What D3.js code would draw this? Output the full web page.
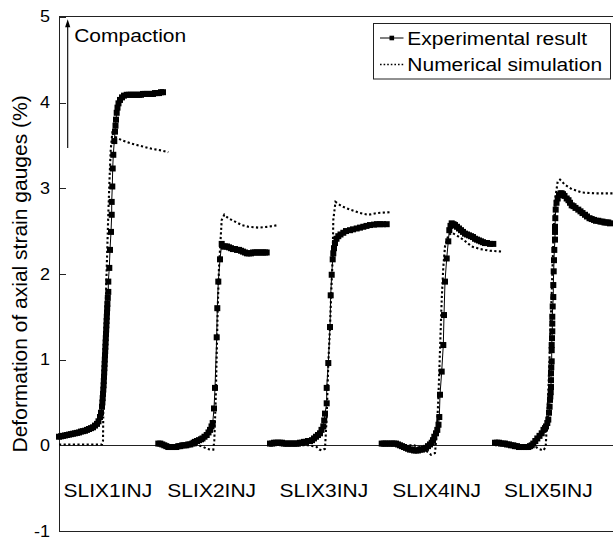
<!DOCTYPE html>
<html>
<head>
<meta charset="utf-8">
<script src="https://cdn.jsdelivr.net/npm/d3@7"></script>
<style>
  body { margin: 0; background: #fff; }
  svg { display: block; background: #fff; }
</style>
</head>
<body>
<svg id="chart" width="613" height="541"></svg>
<script>
// Injection tests, in the order they were run along the time axis
const categories = ["SLIX1INJ", "SLIX2INJ", "SLIX3INJ", "SLIX4INJ", "SLIX5INJ"];
// where each test's name sits on the (unlabelled) time axis
const categoryCenters = [48.8, 152.7, 264.8, 377.7, 489.3];

const yTicks = [-1, 0, 1, 2, 3, 4, 5];
const legendLabels = ["Experimental result", "Numerical simulation"];
const yTitle = "Deformation of axial strain gauges (%)";
const arrowLabel = "Compaction";

// Measured axial strain, [time, strain %]
const exp1 = [[0,0.10],[2,0.105],[4,0.11],[6,0.115],[8,0.12],[10,0.125],[12,0.13],[14,0.135],[16,0.14],[18,0.145],[20,0.15],[22,0.16],[24,0.165],[26,0.17],[28,0.18],[30,0.19],[32,0.20],[34,0.21],[36,0.23],[38,0.25],[39.5,0.28],[41,0.33],[42,0.38],[43,0.45],[43.4,0.50],[43.7,0.55],[44,0.60],[44.3,0.65],[44.6,0.70],[44.8,0.75],[45,0.80],[45.2,0.85],[45.4,0.90],[45.6,0.95],[45.8,1.00],[46,1.05],[46.2,1.10],[46.4,1.15],[46.6,1.20],[46.8,1.25],[47,1.30],[47.2,1.35],[47.4,1.40],[47.6,1.45],[47.8,1.50],[48,1.55],[48.2,1.60],[48.4,1.65],[48.8,1.72],[49.3,1.79],[49.3,1.91],[50.3,2.07],[51,2.28],[52,2.49],[52.7,2.69],[52.7,2.84],[53.3,3.02],[53.7,3.23],[54.3,3.39],[55.3,3.55],[56,3.66],[56.5,3.73],[57,3.80],[57.7,3.88],[58.5,3.94],[59.5,3.99],[61,4.03],[63,4.06],[65,4.08],[67.7,4.09],[70,4.09],[72,4.09],[74,4.09],[76,4.09],[78,4.09],[80,4.09],[82,4.09],[84,4.10],[86,4.10],[88,4.10],[90,4.10],[92,4.10],[94,4.10],[96,4.11],[98,4.11],[100,4.11],[102,4.12],[104,4.12]];
const exp2 = [[99.3,0.02],[101.3,0.02],[103.3,0.01],[105.3,0.0],[107.3,-0.01],[109.3,-0.02],[111.3,-0.02],[113.3,-0.02],[115.3,-0.02],[117.3,-0.02],[119.3,-0.01],[121.3,-0.01],[123.3,0.0],[125.3,0.0],[127.3,0.0],[129.3,0.01],[131.3,0.01],[133.3,0.02],[134.7,0.03],[136,0.04],[138,0.05],[140,0.06],[142,0.07],[143.5,0.08],[145.5,0.10],[147.7,0.12],[149.5,0.15],[151,0.18],[152.5,0.22],[153.7,0.26],[155,0.43],[156,0.67],[157.7,1.26],[158.3,1.60],[159.3,1.91],[161,2.17],[162.7,2.35],[164.5,2.32],[166,2.32],[168,2.32],[170,2.31],[172,2.30],[174,2.29],[176,2.29],[178,2.28],[180,2.28],[182,2.27],[184,2.26],[186,2.25],[188,2.24],[190,2.24],[192,2.24],[194,2.25],[196,2.25],[198,2.25],[200,2.25],[202,2.25],[204,2.25],[206,2.25],[207.7,2.25]];
const exp3 = [[211,0.02],[213,0.02],[215,0.03],[217,0.03],[219,0.03],[221,0.03],[223,0.03],[225,0.02],[227,0.02],[229,0.02],[231,0.02],[233,0.02],[235,0.02],[237,0.02],[239,0.02],[241,0.03],[243,0.03],[245,0.04],[247,0.04],[249,0.05],[251,0.05],[253,0.06],[255,0.08],[257,0.10],[259,0.12],[261,0.14],[262.5,0.18],[264.3,0.22],[265.2,0.29],[266,0.37],[267.7,0.49],[267.7,0.67],[269.3,0.96],[271,1.38],[271.7,1.75],[272.7,1.99],[273.7,2.17],[274.3,2.24],[275,2.30],[276,2.36],[277.5,2.41],[279.3,2.44],[281.5,2.46],[284.3,2.48],[287,2.50],[291,2.51],[294,2.52],[297.7,2.53],[301,2.54],[304.3,2.55],[307.5,2.56],[311,2.57],[315,2.575],[318,2.58],[321,2.58],[324,2.58],[327.7,2.58]];
const exp4 = [[322.7,0.02],[324.7,0.02],[326.7,0.02],[328.7,0.02],[331,0.02],[333,0.02],[335,0.02],[337,0.02],[339,0.01],[341,0.0],[343,-0.01],[345,-0.02],[347,-0.03],[349,-0.04],[351,-0.05],[353,-0.05],[355,-0.06],[357,-0.06],[359,-0.06],[361,-0.05],[363,-0.05],[365,-0.04],[367,-0.03],[369,-0.01],[371,0.01],[372.7,0.03],[374,0.06],[375.3,0.10],[377,0.14],[378.3,0.18],[379.5,0.24],[380.3,0.33],[381,0.59],[382.7,0.86],[384.3,1.17],[385,1.52],[386,1.91],[387.7,2.18],[389.3,2.38],[390.3,2.51],[391.5,2.56],[392.7,2.59],[394.5,2.58],[396,2.57],[398,2.55],[400,2.53],[402,2.51],[404,2.49],[406,2.47],[408,2.46],[410,2.45],[412,2.44],[414,2.43],[416,2.41],[418,2.40],[420,2.39],[422,2.38],[424,2.37],[426,2.36],[428,2.36],[431,2.35],[434.3,2.35]];
const exp5 = [[436,0.03],[438,0.03],[440,0.03],[442,0.02],[444.3,0.02],[446,0.02],[448,0.01],[450,0.01],[452,0.0],[454.3,0.0],[456,-0.01],[458,-0.01],[460,-0.02],[462.7,-0.02],[465,-0.02],[467,-0.02],[469.3,-0.02],[471,-0.01],[472.7,0.0],[474.3,0.02],[476.3,0.05],[478.3,0.08],[480.5,0.11],[482.7,0.14],[484.5,0.18],[486,0.20],[487,0.22],[488.3,0.26],[489.3,0.30],[490,0.38],[490.6,0.45],[491,0.53],[491.3,0.57],[491.7,0.62],[492,0.68],[492,0.76],[492,0.84],[492.3,0.91],[492.7,0.98],[492.7,1.11],[492.7,1.17],[493,1.25],[493.3,1.33],[493.3,1.42],[493.3,1.50],[493.7,1.62],[494.3,1.73],[494.3,1.87],[494.7,2.03],[495,2.16],[495.3,2.28],[496,2.40],[496,2.49],[496,2.55],[496.3,2.65],[496.7,2.75],[497.5,2.83],[498.7,2.88],[500,2.92],[501.5,2.94],[502.7,2.94],[504,2.93],[505.5,2.91],[507.7,2.88],[509.5,2.86],[511,2.83],[512.7,2.80],[514.5,2.79],[516.5,2.77],[519.3,2.75],[521.5,2.73],[523.5,2.71],[526,2.69],[528,2.67],[530.5,2.65],[532.7,2.64],[535,2.63],[537,2.62],[539.3,2.62],[541.5,2.61],[543.5,2.61],[545.5,2.60],[547.5,2.60],[549.3,2.60],[551,2.59]];

// Simulated axial strain, [time, strain %]
const num1 = [[0,0.01],[43,0.01],[44,0.05],[44.3,0.4],[45.3,0.9],[46.3,1.4],[47.3,1.9],[48.3,2.3],[49.3,2.7],[50.5,3.1],[51.7,3.45],[53.3,3.64],[56,3.60],[62.7,3.56],[72.7,3.52],[82.7,3.49],[92.7,3.46],[102.7,3.44],[109.3,3.42]];
const num2 = [[99,0.0],[140,0.0],[144.3,-0.02],[147.7,-0.04],[151,-0.05],[154.3,-0.05],[155.3,0.06],[156.7,0.53],[158.7,1.58],[160,2.08],[162.7,2.63],[165.3,2.69],[169.3,2.65],[176,2.61],[182.7,2.57],[189.3,2.55],[199.3,2.54],[209.3,2.55],[219.3,2.57]];
const num3 = [[211,0.0],[252,0.0],[254,-0.01],[257.7,-0.02],[260.3,-0.05],[262.7,-0.06],[266,-0.04],[267.7,0.33],[269.3,0.96],[271,1.38],[272.3,1.8],[273.7,2.2],[274.3,2.63],[276.5,2.84],[282.7,2.79],[291,2.75],[301,2.71],[309.3,2.69],[317.7,2.71],[331,2.72]];
const num4 = [[322.7,0.0],[355,0.0],[360,-0.02],[365,-0.04],[367.7,-0.07],[372,-0.11],[374.3,-0.1],[376,-0.09],[377.7,0.14],[379.3,0.53],[381,1.11],[382.7,1.70],[384.3,2.08],[386,2.32],[389.3,2.45],[392.7,2.48],[397.7,2.45],[404.3,2.40],[412.7,2.32],[421,2.29],[431,2.27],[442.7,2.26]];
const num5 = [[436,0.0],[475,0.0],[477,-0.02],[479.3,-0.04],[484.3,-0.06],[486.7,-0.02],[487.7,0.22],[489.3,0.61],[491,1.19],[492.7,1.77],[494.3,2.36],[496,2.86],[498.7,3.08],[501,3.10],[506,3.04],[512.7,2.99],[522.7,2.95],[536,2.94],[556,2.94]];

// the "Compaction" arrow: time position and strain span
const arrowAt = 8.7;
const arrowSpan = [3.47, 4.97];

const experimental = [exp1, exp2, exp3, exp4, exp5];
const numerical = [num1, num2, num3, num4, num5];

const svg = d3.select("#chart");
const font = "'Liberation Sans', Arial, Helvetica, sans-serif";
const ink = "#000";

const x = d3.scaleLinear().domain([0, 561]).range([59, 620]);
const y = d3.scaleLinear().domain([-1, 5]).range([531, 16.8]);

// horizontally set text, slightly squat
function squatText(g, txt, px, py, size, anchor) {
  return g.append("text")
    .attr("transform", `translate(${px},${py}) scale(1,0.9)`)
    .attr("text-anchor", anchor)
    .attr("font-size", size)
    .attr("font-family", font)
    .attr("fill", ink)
    .text(txt);
}

// frame: top and bottom edges plus the zero line
const [t0, t1] = x.domain();
[5, -1, 0].forEach(v => {
  svg.append("line")
    .attr("x1", x(t0)).attr("x2", x(t1))
    .attr("y1", y(v)).attr("y2", y(v))
    .attr("stroke", "#222").attr("stroke-width", 1)
    .attr("shape-rendering", "crispEdges");
});

// left axis with inward ticks
const yAxis = svg.append("g")
  .attr("transform", `translate(${x(t0)},0)`)
  .call(d3.axisLeft(y).tickValues(yTicks).tickSize(-7).tickSizeOuter(0)
    .tickPadding(9).tickFormat(d => String(d)));
yAxis.select(".domain").attr("stroke", "#222").attr("shape-rendering", "crispEdges");
yAxis.selectAll(".tick line").attr("stroke", "#222").attr("shape-rendering", "crispEdges");
yAxis.selectAll(".tick text")
  .attr("font-size", 18).attr("font-family", font).attr("fill", ink)
  .attr("transform", "scale(1,0.9)");

// y title
svg.append("text")
  .attr("transform", `translate(26.5,${(y(5) + y(-1)) / 2}) rotate(-90)`)
  .attr("text-anchor", "middle")
  .attr("font-size", 21)
  .attr("font-family", font)
  .attr("fill", ink)
  .text(yTitle);

const line = d3.line().x(d => x(d[0])).y(d => y(d[1]));

// simulated curves: dotted
const gNum = svg.append("g");
numerical.forEach(s => {
  gNum.append("path").datum(s)
    .attr("d", line)
    .attr("fill", "none")
    .attr("stroke", ink)
    .attr("stroke-width", 2.1)
    .attr("stroke-dasharray", "2.2,2.4");
});

// measured curves: thin line with square markers
const gExp = svg.append("g");
const sq = 6;
experimental.forEach(s => {
  gExp.append("path").datum(s)
    .attr("d", line)
    .attr("fill", "none")
    .attr("stroke", ink)
    .attr("stroke-width", 1);
  gExp.selectAll(null).data(s).enter().append("rect")
    .attr("x", d => x(d[0]) - sq / 2)
    .attr("y", d => y(d[1]) - sq / 2)
    .attr("width", sq).attr("height", sq)
    .attr("fill", "#000");
});

// test names
const gCat = svg.append("g");
categories.forEach((c, i) => {
  squatText(gCat, c, x(categoryCenters[i]), y(-0.607), 21, "middle");
});

// compaction arrow
const ax = x(arrowAt);
svg.append("line")
  .attr("x1", ax).attr("x2", ax)
  .attr("y1", y(arrowSpan[0])).attr("y2", y(arrowSpan[1]) + 6)
  .attr("stroke", ink).attr("stroke-width", 1.1);
svg.append("path")
  .attr("d", `M${ax},${y(arrowSpan[1])} L${ax - 2.6},${y(arrowSpan[1]) + 8} L${ax + 2.6},${y(arrowSpan[1]) + 8} Z`)
  .attr("fill", ink);
squatText(svg, arrowLabel, ax + 6.5, 41.5, 21, "start");

// legend
const lg = svg.append("g");
lg.append("rect")
  .attr("x", 373.5).attr("y", 23.5).attr("width", 237).attr("height", 55.5)
  .attr("fill", "#fff").attr("stroke", "#222").attr("stroke-width", 1);
lg.append("line").attr("x1", 380).attr("x2", 403.5).attr("y1", 38).attr("y2", 38)
  .attr("stroke", ink).attr("stroke-width", 1);
lg.append("rect").attr("x", 389.5).attr("y", 35.7).attr("width", 4.6).attr("height", 4.6)
  .attr("fill", "#000");
lg.append("line").attr("x1", 380).attr("x2", 403.5).attr("y1", 64.5).attr("y2", 64.5)
  .attr("stroke", ink).attr("stroke-width", 1.6).attr("stroke-dasharray", "1.6,2");
squatText(lg, legendLabels[0], 407.3, 44.7, 21, "start");
squatText(lg, legendLabels[1], 407.3, 70.7, 21, "start");
</script>
</body>
</html>
